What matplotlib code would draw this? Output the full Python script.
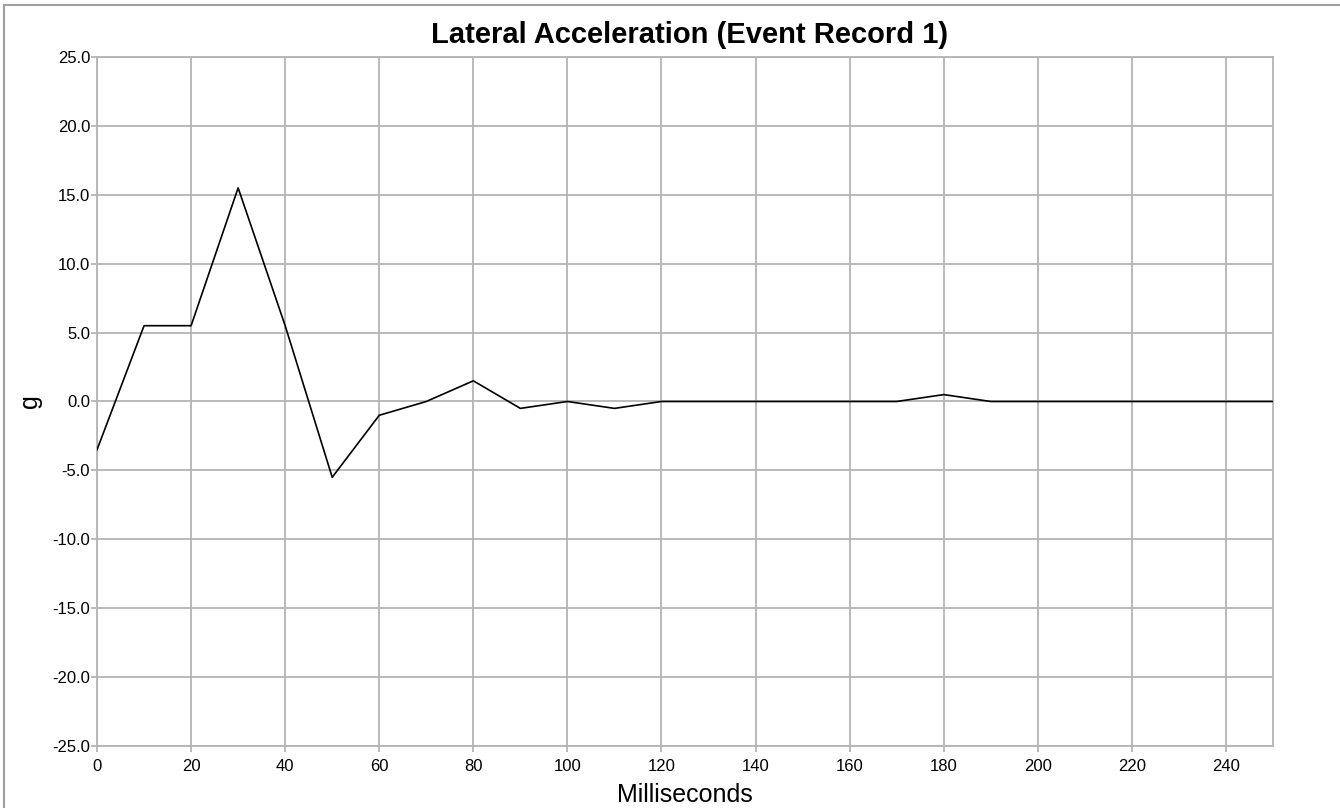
import matplotlib.pyplot as plt
import numpy as np
from matplotlib.patches import Rectangle

plt.rcParams['font.family'] = ['Liberation Sans', 'DejaVu Sans']

ms = [0, 10, 20, 30, 40, 50, 60, 70, 80, 90, 100, 110, 120, 130, 140, 150,
      160, 170, 180, 190, 200, 210, 220, 230, 240, 250]
accel = [-3.5, 5.5, 5.5, 15.5, 5.5, -5.5, -1.0, 0.0, 1.5, -0.5, 0.0, -0.5, 0.0, 0.0,
         0.0, 0.0, 0.0, 0.0, 0.5, 0.0, 0.0, 0.0, 0.0, 0.0, 0.0, 0.0]

fig = plt.figure(figsize=(13.4, 8.08), dpi=100)
ax = fig.add_axes([0.0724, 0.0767, 0.8776, 0.8528])

# outer frame
fig.patches.append(Rectangle((0.003, -0.01), 1.1, 1.004, transform=fig.transFigure,
                             fill=False, edgecolor='#a0a0a0', linewidth=1.5))

ax.plot(ms, accel, color='black', linewidth=1.2, zorder=3)

ax.set_xlim(0, 250)
ax.set_ylim(-25, 25)
ax.set_xticks(np.arange(0, 250, 20))
ax.set_yticks(np.arange(-25, 26, 5))
ax.set_yticklabels([f'{v:.1f}' for v in np.arange(-25, 26, 5)])
ax.grid(True, color='#b4b4b4', linewidth=1.3)
ax.set_axisbelow(True)
for s in ax.spines.values():
    s.set_color('#b4b4b4')
    s.set_linewidth(1.3)
ax.tick_params(axis='both', colors='#b4b4b4', labelcolor='black', labelsize=12,
               length=4, width=1.3)
ax.tick_params(axis='x', pad=5)
ax.tick_params(axis='y', pad=1)

ax.set_title('Lateral Acceleration (Event Record 1)', fontsize=21, fontweight='bold',
             pad=10, x=0.504)
ax.set_xlabel('Milliseconds', fontsize=18, labelpad=7)
ax.set_ylabel('g', fontsize=18, labelpad=7.5)

plt.savefig('out.png', dpi=100)
